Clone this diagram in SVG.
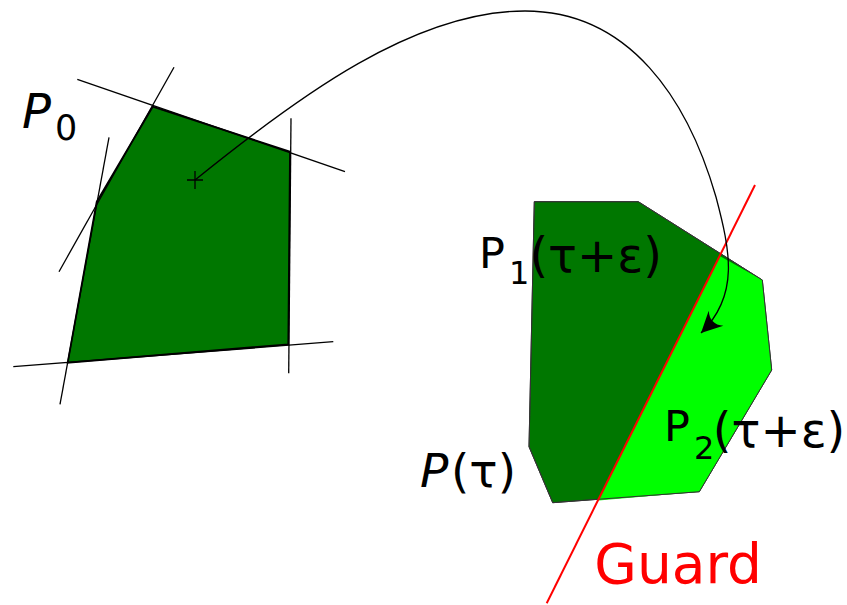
<svg xmlns="http://www.w3.org/2000/svg" width="847" height="605" viewBox="0 0 847 605">
<defs>
<style>
.dark{fill:#007700}
.light{fill:#00ff00}
.thin{stroke:#000;stroke-width:1.3;fill:none}
.lbl{font-family:"DejaVu Sans","Liberation Sans",sans-serif;fill:#000}
.it{font-style:italic}
</style>
<marker id="arr" markerUnits="userSpaceOnUse" markerWidth="30" markerHeight="30" viewBox="-16 -10 20 20" refX="0" refY="0" orient="auto">
<path d="M0,0 L-14,-7 Q-8,0 -14,7 Z" fill="#000"/>
</marker>
</defs>
<rect width="847" height="605" fill="#fff"/>
<g id="P0">
<polygon class="dark" points="152.7,106.7 290,151.7 288.3,344.3 67.7,362.7 96.7,201.7" stroke="#000" stroke-width="1.8"/>
<line class="thin" x1="77.3" y1="79.3" x2="345" y2="171.7"/>
<line class="thin" x1="174" y1="67.3" x2="59" y2="271.7"/>
<line class="thin" x1="109" y1="137.3" x2="60" y2="404.3"/>
<line class="thin" x1="13.3" y1="366.7" x2="333.3" y2="341.7"/>
<line class="thin" x1="291" y1="118.3" x2="288.7" y2="373.3"/>
<path class="thin" d="M187,180 H203 M195,171 V189"/>
<text class="lbl"><tspan class="it" x="22" y="127.7" font-size="48">P</tspan><tspan x="55" y="140" font-size="35">0</tspan></text>
</g>
<g id="Ptau">
<polygon class="dark" points="534.3,201.7 638.3,201.7 762.3,280 771.7,370 699.3,491.7 552.7,502.7 529,446.7" stroke="#333" stroke-width="1"/>
<polygon class="light" points="719.7,256 762.3,280 771.7,370 699.3,491.7 598.5,500.6"/>
<polygon points="534.3,201.7 638.3,201.7 762.3,280 771.7,370 699.3,491.7 552.7,502.7 529,446.7" fill="none" stroke="#333" stroke-width="1"/>
<text class="lbl"><tspan class="it" x="420" y="487" font-size="47">P</tspan><tspan x="451" y="487" font-size="47">(τ)</tspan></text>
</g>
<g id="P1">
<text class="lbl"><tspan x="479" y="268" font-size="43">P</tspan><tspan x="509" y="284" font-size="32">1</tspan><tspan x="529.4" y="272" font-size="48">(τ+ε)</tspan></text>
</g>
<g id="P2">
<text class="lbl"><tspan x="664" y="441" font-size="43">P</tspan><tspan x="694" y="458.5" font-size="32">2</tspan><tspan x="712.8" y="446.5" font-size="48">(τ+ε)</tspan></text>
</g>
<g id="guard">
<line x1="755" y1="185" x2="546.7" y2="603.3" stroke="#ff0000" stroke-width="2"/>
<text x="594.3" y="583.3" font-size="55" font-family="DejaVu Sans, Liberation Sans, sans-serif" fill="#ff0000">Guard</text>
</g>
<g id="connectors">
<path class="thin" d="M195,180 C300,95 415,11 525,11 C630,11 688,100 716,197 C730,250 740,295 701,333" marker-end="url(#arr)" stroke-width="1.2"/>
</g>
</svg>
